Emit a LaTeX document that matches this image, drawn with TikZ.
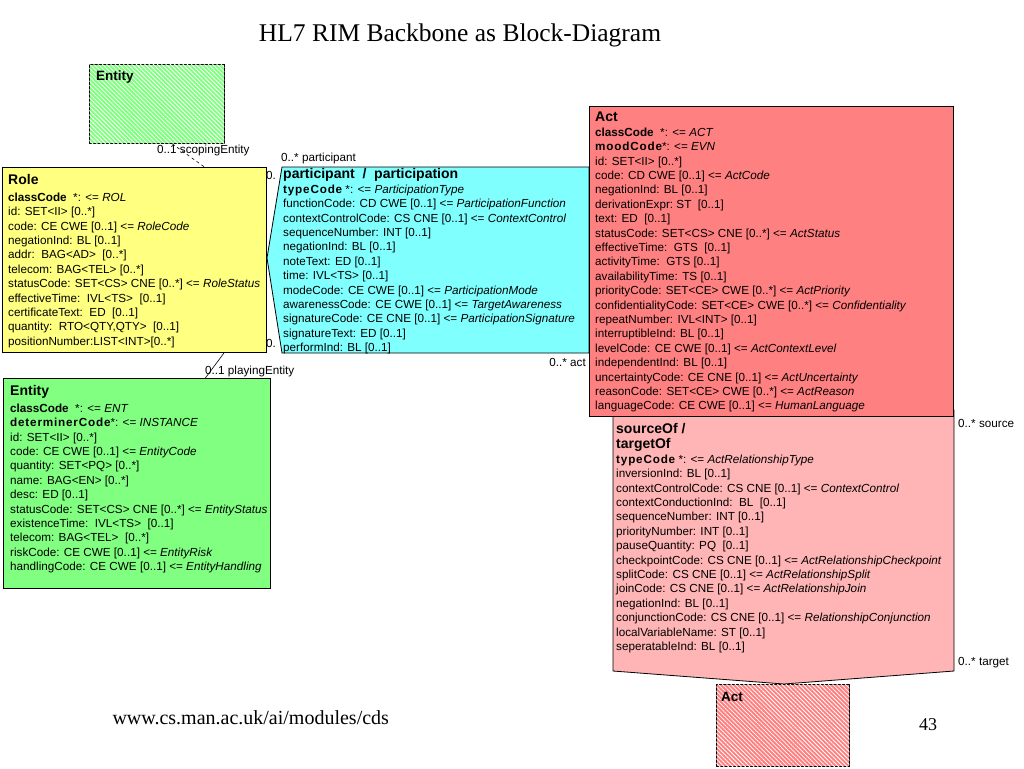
\documentclass[tikz,border=0pt]{standalone}
\usepackage{fontspec}
\setmainfont{Liberation Serif}
\newfontfamily\umlfont{Liberation Sans}
\usetikzlibrary{patterns.meta}

\definecolor{rolecolor}{HTML}{FFFF80}
\definecolor{partcolor}{HTML}{80FFFF}
\definecolor{actcolor}{HTML}{FF8080}
\definecolor{relcolor}{HTML}{FFB5B5}
\definecolor{entcolor}{HTML}{80FF80}

\newcommand{\keyattr}[1]{{\addfontfeature{LetterSpace=7}#1}}

\tikzset{
  classbox/.style={draw=black, line width=0.8pt, inner sep=0pt, anchor=north west},
  hatched/.style={classbox, fill=#1, postaction={pattern={Lines[angle=-45,distance=3pt,line width=0.8pt]}, pattern color=white}},
  attrs/.style={anchor=north west, inner sep=0pt, align=left, font=\umlfont\fontsize{11.7}{14.4}\selectfont},
  boxtitle/.style={anchor=base west, inner sep=0pt, font=\umlfont\bfseries\fontsize{14}{15}\selectfont},
  mult/.style={inner sep=0pt, font=\umlfont\fontsize{11.7}{13}\selectfont}
}

\begin{document}
\begin{tikzpicture}[x=1pt, y=-1pt]
\useasboundingbox (0,0) rectangle (1024,768);

\node[font=\fontsize{25.5}{28}\selectfont] (title) at (460,35) {HL7 RIM Backbone as Block-Diagram};

\node[hatched=entcolor, minimum width=135pt, minimum height=79pt] (scope) at (89,64) {};
\node[boxtitle, font=\umlfont\bfseries\fontsize{13.5}{15}\selectfont] (scopetitle) at (96,81) {Entity};

\node[classbox, fill=rolecolor, minimum width=264pt, minimum height=185pt] (role) at (2,167) {};
\node[boxtitle] (roletitle) at (8,184) {Role};
\node[attrs] (roleattrs) at (8,192.6) {%
{\bfseries classCode}\ \ *: <= \textit{ROL}\\
id: SET<II> [0..*]\\
code: CE CWE [0..1] <= \textit{RoleCode}\\
negationInd: BL [0..1]\\
addr:\ \ BAG<AD>\ \ [0..*]\\
telecom: BAG<TEL> [0..*]\\
statusCode: SET<CS> CNE [0..*] <= \textit{RoleStatus}\\
effectiveTime:\ \ IVL<TS>\ \ [0..1]\\
certificateText:\ \ ED\ \ [0..1]\\
quantity:\ \ RTO<QTY,QTY>\ \ [0..1]\\
positionNumber:LIST<INT>[0..*]};

\node[mult, anchor=west] (roleparttop) at (266,175) {0.};
\node[mult, anchor=west] (rolepartbot) at (266,343) {0.};

\draw[line width=0.8pt, fill=partcolor] (282,167) -- (267,258) -- (282,353) -- (589,353) -- (589,167) -- cycle;
\node[boxtitle] (parttitle) at (283,178) {participant\ \ /\ \ participation};
\node[attrs] (partattrs) at (283,184.6) {%
{\bfseries\keyattr{typeCode}} *: <= \textit{ParticipationType}\\
functionCode: CD CWE [0..1] <= \textit{ParticipationFunction}\\
contextControlCode: CS CNE [0..1] <= \textit{ContextControl}\\
sequenceNumber: INT [0..1]\\
negationInd: BL [0..1]\\
noteText: ED [0..1]\\
time: IVL<TS> [0..1]\\
modeCode: CE CWE [0..1] <= \textit{ParticipationMode}\\
awarenessCode: CE CWE [0..1] <= \textit{TargetAwareness}\\
signatureCode: CE CNE [0..1] <= \textit{ParticipationSignature}\\
signatureText: ED [0..1]\\
performInd: BL [0..1]};

\draw[line width=0.8pt, fill=relcolor] (613,410) -- (613,671) -- (784,684) -- (954,671) -- (954,410) -- cycle;

\node[classbox, fill=actcolor, minimum width=364pt, minimum height=310pt] (act) at (589,106) {};
\node[boxtitle] (acttitle) at (595,121) {Act};
\node[attrs] (actattrs) at (595,127.6) {%
{\bfseries classCode}\ \ *: <= \textit{ACT}\\
{\bfseries\keyattr{moodCode}}*: <= \textit{EVN}\\
id: SET<II> [0..*]\\
code: CD CWE [0..1] <= \textit{ActCode}\\
negationInd: BL [0..1]\\
derivationExpr:\ ST\ \ [0..1]\\
text: ED\ \ [0..1]\\
statusCode: SET<CS> CNE [0..*] <= \textit{ActStatus}\\
effectiveTime:\ \ GTS\ \ [0..1]\\
activityTime:\ \ GTS\ [0..1]\\
availabilityTime: TS [0..1]\\
priorityCode: SET<CE> CWE [0..*] <= \textit{ActPriority}\\
confidentialityCode: SET<CE> CWE [0..*] <= \textit{Confidentiality}\\
repeatNumber: IVL<INT> [0..1]\\
interruptibleInd: BL [0..1]\\
levelCode: CE CWE [0..1] <= \textit{ActContextLevel}\\
independentInd: BL [0..1]\\
uncertaintyCode: CE CNE [0..1] <= \textit{ActUncertainty}\\
reasonCode: SET<CE> CWE [0..*] <= \textit{ActReason}\\
languageCode: CE CWE [0..1] <= \textit{HumanLanguage}};

\node[boxtitle, anchor=north west, align=left] (reltitle) at (616,422.8) {sourceOf /\\targetOf};
\node[attrs] (relattrs) at (616,454.6) {%
{\bfseries\keyattr{typeCode}} *: <= \textit{ActRelationshipType}\\
inversionInd: BL [0..1]\\
contextControlCode: CS CNE [0..1] <= \textit{ContextControl}\\
contextConductionInd:\ \ BL\ \ [0..1]\\
sequenceNumber: INT [0..1]\\
priorityNumber: INT [0..1]\\
pauseQuantity: PQ\ \ [0..1]\\
checkpointCode: CS CNE [0..1] <= \textit{ActRelationshipCheckpoint}\\
splitCode: CS CNE [0..1] <= \textit{ActRelationshipSplit}\\
joinCode: CS CNE [0..1] <= \textit{ActRelationshipJoin}\\
negationInd: BL [0..1]\\
conjunctionCode: CS CNE [0..1] <= \textit{RelationshipConjunction}\\
localVariableName: ST [0..1]\\
seperatableInd: BL [0..1]};

\node[hatched=actcolor, minimum width=133pt, minimum height=82pt] (target) at (716,684) {};
\node[boxtitle, font=\umlfont\bfseries\fontsize{13.5}{15}\selectfont] (targettitle) at (721,701) {Act};

\node[classbox, fill=entcolor, minimum width=267pt, minimum height=210pt] (entity) at (3,378) {};
\node[boxtitle] (entitytitle) at (10,395) {Entity};
\node[attrs] (entityattrs) at (10,403.6) {%
{\bfseries classCode}\ \ *: <= \textit{ENT}\\
{\bfseries\keyattr{determinerCode}}*: <= \textit{INSTANCE}\\
id: SET<II> [0..*]\\
code: CE CWE [0..1] <= \textit{EntityCode}\\
quantity: SET<PQ> [0..*]\\
name: BAG<EN> [0..*]\\
desc: ED [0..1]\\
statusCode: SET<CS> CNE [0..*] <= \textit{EntityStatus}\\
existenceTime:\ \ IVL<TS>\ \ [0..1]\\
telecom: BAG<TEL>\ \ [0..*]\\
riskCode: CE CWE [0..1] <= \textit{EntityRisk}\\
handlingCode: CE CWE [0..1] <= \textit{EntityHandling}};

\draw[dashed, line width=0.6pt] (scope.-69) -- (role.53);
\draw[line width=0.6pt] (role.-46) -- (entity.57);

\node[mult, anchor=west] (scopelbl) at (157,150) {0..1 scopingEntity};
\node[mult, anchor=west] (playlbl) at (205,371) {0..1 playingEntity};
\node[mult, anchor=west] (partlbl) at (281,158) {0..* participant};
\node[mult, anchor=east] (actlbl) at (586,362) {0..* act};
\node[mult, anchor=west] (srclbl) at (958,423) {0..* source};
\node[mult, anchor=west] (tgtlbl) at (958,663) {0..* target};

\node[font=\fontsize{20}{22}\selectfont, anchor=west] (url) at (109,718) {www.cs.man.ac.uk/ai/modules/cds};
\node[font=\fontsize{18}{20}\selectfont] (pageno) at (928,725) {43};
\end{tikzpicture}
\end{document}
